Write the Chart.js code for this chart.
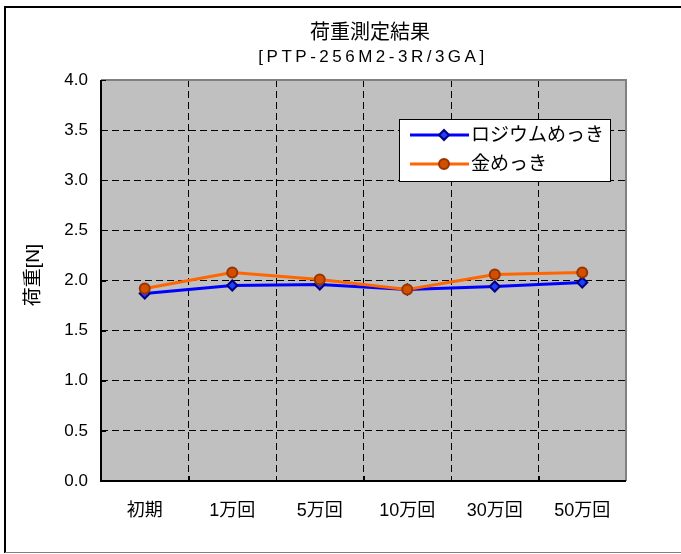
<!DOCTYPE html>
<html>
<head>
<meta charset="utf-8">
<script src="https://cdn.jsdelivr.net/npm/chart.js@4/dist/chart.umd.min.js"></script>
<style>
  html, body { margin: 0; padding: 0; background: #fff; }
  #wrap { width: 681px; height: 554px; position: relative; }
</style>
</head>
<body>
<div id="wrap"><canvas id="loadChart" width="681" height="554"></canvas></div>
<script>
// chart data
const categories = ['初期', '1万回', '5万回', '10万回', '30万回', '50万回'];
const rhodiumValues = [1.87, 1.95, 1.96, 1.91, 1.94, 1.98];
const goldValues = [1.92, 2.08, 2.01, 1.91, 2.06, 2.08];
const seriesNames = ['ロジウムめっき', '金めっき'];
const titleLines = ['荷重測定結果', '[PTP-256M2-3R/3GA]'];
const yTitle = '荷重[N]';

const FONT = '"Liberation Sans", Arial, "Noto Sans CJK JP", sans-serif';

// --- background, frame, ticks, title, legend ---
const decorPlugin = {
    id: 'decor',
    beforeDraw(chart) {
        const ctx = chart.ctx;
        const a = chart.chartArea;
        ctx.save();
        ctx.fillStyle = '#fff';
        ctx.fillRect(0, 0, chart.width, chart.height);
        ctx.fillStyle = '#C0C0C0';
        ctx.fillRect(a.left, a.top, a.right - a.left, a.bottom - a.top);
        ctx.restore();
    },
    beforeDatasetsDraw(chart) {
        const ctx = chart.ctx;
        const a = chart.chartArea;
        const y = chart.scales.y;
        ctx.save();
        // plot border top/right gray
        ctx.strokeStyle = '#808080';
        ctx.lineWidth = 2;
        ctx.beginPath();
        ctx.moveTo(a.left, a.top);
        ctx.lineTo(a.right, a.top);
        ctx.lineTo(a.right, a.bottom);
        ctx.stroke();
        // axes black
        ctx.strokeStyle = '#000';
        ctx.lineWidth = 2;
        ctx.beginPath();
        ctx.moveTo(a.left, a.top);
        ctx.lineTo(a.left, a.bottom);
        ctx.lineTo(a.right, a.bottom);
        ctx.stroke();
        // inward ticks
        ctx.lineWidth = 1;
        ctx.beginPath();
        y.ticks.forEach(t => {
            const py = Math.round(y.getPixelForValue(t.value)) + 0.5;
            ctx.moveTo(a.left, py);
            ctx.lineTo(a.left + 5, py);
        });
        const step = (a.right - a.left) / categories.length;
        for (let i = 1; i < categories.length; i++) {
            const px = Math.round(a.left + step * i) + 0.5;
            ctx.moveTo(px, a.bottom);
            ctx.lineTo(px, a.bottom - 5);
        }
        ctx.stroke();
        ctx.restore();
    },
    afterDraw(chart) {
        const ctx = chart.ctx;
        ctx.save();
        // outer frame
        ctx.strokeStyle = '#000';
        ctx.lineWidth = 2;
        ctx.beginPath();
        ctx.moveTo(681, 7);
        ctx.lineTo(5, 7);
        ctx.lineTo(5, 553);
        ctx.stroke();
        ctx.strokeStyle = '#808080';
        ctx.lineWidth = 1;
        ctx.beginPath();
        ctx.moveTo(5, 552.5);
        ctx.lineTo(681, 552.5);
        ctx.stroke();

        // title
        ctx.fillStyle = '#000';
        ctx.textAlign = 'center';
        ctx.textBaseline = 'middle';
        ctx.font = '20px ' + FONT;
        ctx.fillText(titleLines[0], 370, 33);
        ctx.font = '17px ' + FONT;
        ctx.letterSpacing = '3.5px';
        ctx.fillText(titleLines[1], 373, 57);
        ctx.letterSpacing = '0px';

        // y axis title
        ctx.save();
        ctx.translate(34, 275);
        ctx.rotate(-Math.PI / 2);
        ctx.font = '19px ' + FONT;
        ctx.fillText(yTitle, 0, 0);
        ctx.restore();

        // legend
        const lx = 399, ly = 119, lw = 211, lh = 62;
        ctx.fillStyle = '#fff';
        ctx.fillRect(lx, ly, lw, lh);
        ctx.strokeStyle = '#000';
        ctx.lineWidth = 1;
        ctx.strokeRect(lx + 0.5, ly + 0.5, lw, lh);
        const ds = chart.data.datasets;
        ds.forEach((d, i) => {
            const cy = ly + 16 + i * 29;
            ctx.strokeStyle = d.borderColor;
            ctx.lineWidth = 3;
            ctx.beginPath();
            ctx.moveTo(410, cy);
            ctx.lineTo(469, cy);
            ctx.stroke();
            ctx.fillStyle = d.pointBackgroundColor;
            ctx.strokeStyle = d.pointBorderColor;
            ctx.lineWidth = 2;
            ctx.beginPath();
            if (d.pointStyle === 'rectRot') {
                ctx.moveTo(444, cy - 5);
                ctx.lineTo(449, cy);
                ctx.lineTo(444, cy + 5);
                ctx.lineTo(439, cy);
                ctx.closePath();
            } else {
                ctx.arc(444, cy, 5, 0, Math.PI * 2);
            }
            ctx.fill();
            ctx.stroke();
            ctx.fillStyle = '#000';
            ctx.textAlign = 'left';
            ctx.font = '19px ' + FONT;
            ctx.fillText(d.label, 471, cy + 1);
        });
        ctx.restore();
    }
};

new Chart(document.getElementById('loadChart'), {
    type: 'line',
    data: {
        labels: categories,
        datasets: [{
            label: seriesNames[0],
            data: rhodiumValues,
            order: 1,
            borderColor: '#0000FF',
            borderWidth: 3,
            pointStyle: 'rectRot',
            pointRadius: 5,
            pointBackgroundColor: '#1F3FFF',
            pointBorderColor: '#000080',
            pointBorderWidth: 2,
            tension: 0
        }, {
            label: seriesNames[1],
            data: goldValues,
            order: 0,
            borderColor: '#FF6600',
            borderWidth: 3,
            pointStyle: 'circle',
            pointRadius: 5,
            pointBackgroundColor: '#D05000',
            pointBorderColor: '#993300',
            pointBorderWidth: 2,
            tension: 0
        }]
    },
    options: {
        responsive: false,
        animation: false,
        layout: { padding: { top: 80, right: 55, left: 0, bottom: 0 } },
        plugins: {
            legend: { display: false },
            title: { display: false },
            tooltip: { enabled: false }
        },
        scales: {
            x: {
                offset: true,
                afterFit(scale) { scale.height = 73; },
                grid: {
                    offset: true,
                    color: ctx => (ctx.index === 0 ? 'rgba(0,0,0,0)' : '#000'),
                    lineWidth: 1,
                    drawTicks: false
                },
                border: { display: false, dash: [7, 4] },
                ticks: {
                    color: '#000',
                    font: { family: FONT, size: 18 },
                    padding: 19,
                    maxRotation: 0
                }
            },
            y: {
                min: 0,
                max: 4,
                afterFit(scale) { scale.width = 101; },
                grid: {
                    color: ctx => (ctx.tick && (ctx.tick.value === 0 || ctx.tick.value === 4) ? 'rgba(0,0,0,0)' : '#000'),
                    lineWidth: 1,
                    drawTicks: false
                },
                border: { display: false, dash: [7, 4] },
                ticks: {
                    stepSize: 0.5,
                    color: '#000',
                    font: { family: FONT, size: 17 },
                    padding: 13,
                    callback: v => v.toFixed(1)
                }
            }
        }
    },
    plugins: [decorPlugin]
});
</script>
</body>
</html>
